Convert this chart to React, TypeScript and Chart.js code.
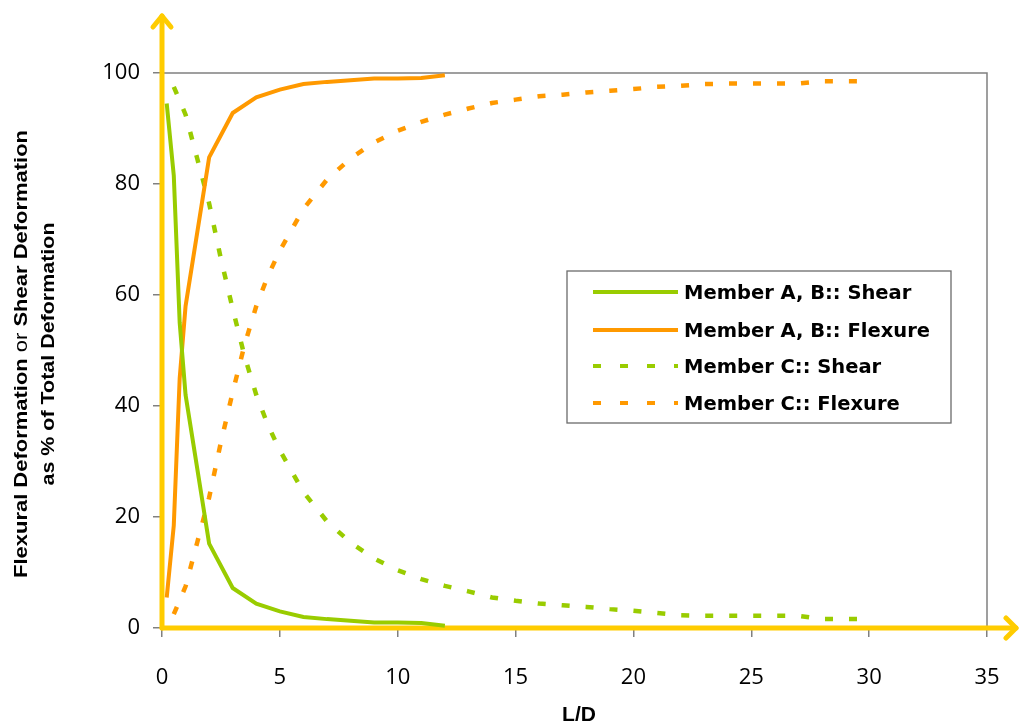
import React, { useEffect, useRef } from 'react';
import { Chart, registerables } from 'chart.js';

Chart.register(...registerables);

// ---- data ----
const ldAB = [0.2, 0.5, 0.75, 1, 2, 3, 4, 5, 6, 7, 8, 9, 10, 11, 12];
const shearAB = [94.5, 81.5, 55, 42, 15.2, 7.2, 4.4, 3.0, 2.0, 1.6, 1.3, 1.0, 1.0, 0.9, 0.4];
const flexAB = [5.5, 18.5, 45, 58, 84.8, 92.8, 95.6, 97.0, 98.0, 98.4, 98.7, 99.0, 99.0, 99.1, 99.6];

const ldC = [0.5, 1, 1.5, 2, 2.5, 3, 3.5, 4, 4.5, 5, 6, 7, 8, 9, 10, 11, 12, 13, 14, 15, 16, 17, 18, 19, 20, 21, 22, 23, 24, 25, 26, 27, 28, 29, 30];
const shearC = [97.5, 92.5, 84.5, 76.5, 66.5, 57.5, 49, 42, 36.5, 32, 24.5, 19.2, 15.4, 12.5, 10.4, 8.8, 7.6, 6.6, 5.5, 4.9, 4.4, 4.1, 3.8, 3.4, 3.1, 2.7, 2.3, 2.2, 2.2, 2.2, 2.2, 2.2, 1.6, 1.6, 1.6];
const flexC = [2.5, 7.5, 15.5, 23.5, 33.5, 42.5, 51, 58, 63.5, 68, 75.5, 80.8, 84.6, 87.5, 89.6, 91.2, 92.5, 93.6, 94.6, 95.2, 95.8, 96.1, 96.5, 96.8, 97.1, 97.5, 97.7, 98.0, 98.1, 98.1, 98.1, 98.1, 98.5, 98.5, 98.5];

const seriesLabels = ['Member A, B:: Shear', 'Member A, B:: Flexure', 'Member C:: Shear', 'Member C:: Flexure'];
const xTickValues = [0, 5, 10, 15, 20, 25, 30, 35];
const yTickValues = [0, 20, 40, 60, 80, 100];
const xTitle = 'L/D';
const yTitleLine1 = ['Flexural Deformation ', 'or', ' Shear Deformation'];
const yTitleLine2 = 'as % of Total Deformation';

const GREEN = '#99CC00';
const ORANGE = '#FF9900';
const YELLOW = '#FFCC00';
const GRAY = '#808080';

const toPts = (xs: number[], ys: number[]) => xs.map((x, i) => ({ x, y: ys[i] }));

const decorPlugin = {
  id: 'decor',
  beforeDatasetsDraw(chart: any) {
    const { ctx, chartArea } = chart;
    const { left, right, top, bottom } = chartArea;
    ctx.save();
    ctx.strokeStyle = GRAY;
    ctx.lineWidth = 1.5;
    ctx.beginPath();
    ctx.moveTo(left, top);
    ctx.lineTo(right, top);
    ctx.lineTo(right, bottom);
    ctx.stroke();

    ctx.strokeStyle = YELLOW;
    ctx.lineWidth = 5;
    ctx.lineCap = 'round';
    ctx.lineJoin = 'round';
    // vertical axis with arrow
    ctx.beginPath();
    ctx.moveTo(left, bottom);
    ctx.lineTo(left, 16);
    ctx.stroke();
    ctx.beginPath();
    ctx.moveTo(left - 9, 27);
    ctx.lineTo(left, 16);
    ctx.lineTo(left + 9, 27);
    ctx.stroke();
    // horizontal axis with arrow
    const tipX = chart.width - 3;
    ctx.beginPath();
    ctx.moveTo(left, bottom);
    ctx.lineTo(tipX, bottom);
    ctx.stroke();
    ctx.beginPath();
    ctx.moveTo(tipX - 10, bottom - 10);
    ctx.lineTo(tipX, bottom);
    ctx.lineTo(tipX - 10, bottom + 10);
    ctx.stroke();
    ctx.restore();
  },
  afterDraw(chart: any) {
    const { ctx } = chart;
    ctx.save();
    // legend
    const bx = 567, by = 271, bw = 384, bh = 152;
    ctx.fillStyle = '#ffffff';
    ctx.fillRect(bx, by, bw, bh);
    ctx.strokeStyle = '#6b6b6b';
    ctx.lineWidth = 1.3;
    ctx.strokeRect(bx, by, bw, bh);
    const rows = [292, 330, 366, 403];
    chart.data.datasets.forEach((ds: any, i: number) => {
      const y = rows[i];
      ctx.strokeStyle = ds.borderColor;
      ctx.lineWidth = 4;
      ctx.lineCap = 'butt';
      ctx.setLineDash(ds.borderDash && ds.borderDash.length ? [8, 19] : []);
      ctx.beginPath();
      ctx.moveTo(593, y);
      ctx.lineTo(678, y);
      ctx.stroke();
      ctx.setLineDash([]);
      ctx.fillStyle = '#000';
      ctx.font = 'bold 19.5px "DejaVu Sans"';
      ctx.textAlign = 'left';
      ctx.textBaseline = 'alphabetic';
      ctx.fillText(ds.label, 684, y + 7);
    });

    // x title
    ctx.fillStyle = '#000';
    ctx.font = 'bold 21px "Liberation Sans"';
    ctx.textAlign = 'center';
    ctx.textBaseline = 'middle';
    ctx.fillText(xTitle, 579, 715);

    // y title (rotated, mixed weights)
    const boldF = 'bold 18px "Liberation Sans"';
    const normF = '18px "Liberation Sans"';
    const fonts = [boldF, normF, boldF];
    ctx.save();
    ctx.translate(22, 354);
    ctx.rotate(-Math.PI / 2);
    let total = 0;
    const widths = yTitleLine1.map((s, i) => {
      ctx.font = fonts[i];
      const w = ctx.measureText(s).width;
      total += w;
      return w;
    });
    const sx1 = 448 / total;
    ctx.scale(sx1, 1);
    let cx = -total / 2;
    ctx.textAlign = 'left';
    ctx.textBaseline = 'middle';
    yTitleLine1.forEach((s, i) => {
      ctx.font = fonts[i];
      ctx.fillText(s, cx, 0);
      cx += widths[i];
    });
    ctx.restore();

    ctx.save();
    ctx.translate(49, 354);
    ctx.rotate(-Math.PI / 2);
    ctx.font = boldF;
    const w2 = ctx.measureText(yTitleLine2).width;
    ctx.scale(263 / w2, 1);
    ctx.textAlign = 'center';
    ctx.textBaseline = 'middle';
    ctx.fillText(yTitleLine2, 0, 0);
    ctx.restore();

    ctx.restore();
  },
};

export default function App() {
  const ref = useRef<HTMLCanvasElement>(null);
  useEffect(() => {
    if (!ref.current) return;
    const chart = new Chart(ref.current, {
      type: 'line',
      data: {
        datasets: [
          { label: seriesLabels[0], data: toPts(ldAB, shearAB), borderColor: GREEN, borderWidth: 4, borderDash: [], pointRadius: 0, tension: 0, fill: false },
          { label: seriesLabels[1], data: toPts(ldAB, flexAB), borderColor: ORANGE, borderWidth: 4, borderDash: [], pointRadius: 0, tension: 0, fill: false },
          { label: seriesLabels[2], data: toPts(ldC, shearC), borderColor: GREEN, borderWidth: 4.5, borderDash: [8, 16], borderCapStyle: 'butt', pointRadius: 0, tension: 0, fill: false },
          { label: seriesLabels[3], data: toPts(ldC, flexC), borderColor: ORANGE, borderWidth: 4.5, borderDash: [8, 16], borderCapStyle: 'butt', pointRadius: 0, tension: 0, fill: false },
        ],
      },
      options: {
        responsive: false,
        animation: false,
        devicePixelRatio: 1,
        layout: { padding: { top: 73, right: 32, left: 0, bottom: 0 } },
        plugins: { legend: { display: false }, tooltip: { enabled: false } },
        scales: {
          x: {
            type: 'linear',
            min: 0,
            max: 35,
            afterBuildTicks: (s: any) => { s.ticks = xTickValues.map((v) => ({ value: v })); },
            afterFit: (s: any) => { s.height = 98; s.paddingLeft = 0; s.paddingRight = 0; },
            grid: { display: true, drawOnChartArea: false, drawTicks: true, tickLength: 9, color: GRAY, lineWidth: 1.5 },
            border: { display: false },
            ticks: { color: '#000', padding: 28, font: { family: '"Open Sans"', size: 22 }, maxRotation: 0 },
          },
          y: {
            type: 'linear',
            min: 0,
            max: 100,
            afterBuildTicks: (s: any) => { s.ticks = yTickValues.map((v) => ({ value: v })); },
            afterFit: (s: any) => { s.width = 162; s.paddingTop = 0; s.paddingBottom = 0; },
            grid: { display: true, drawOnChartArea: false, drawTicks: true, tickLength: 9, color: GRAY, lineWidth: 1.5 },
            border: { display: false },
            ticks: { color: '#000', padding: 13, font: { family: '"Open Sans"', size: 22 } },
          },
        },
      },
      plugins: [decorPlugin],
    } as any);
    return () => chart.destroy();
  }, []);
  return (
    <div style={{ position: 'fixed', left: 0, top: 0, width: 1019, height: 726, background: '#fff' }}>
      <canvas ref={ref} width={1019} height={726} />
    </div>
  );
}
